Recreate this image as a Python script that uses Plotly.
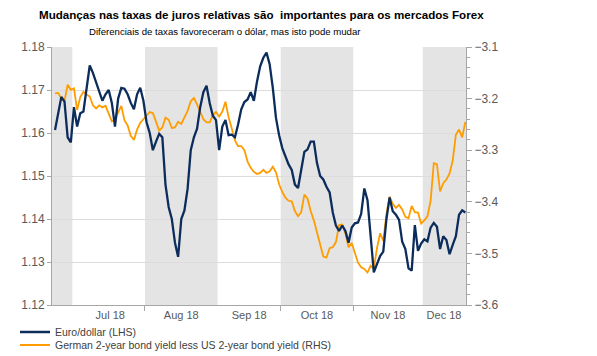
import pandas as pd
import plotly.graph_objects as go

# ---- data (business days 2018-06-21 .. 2018-12-20) ----
start_date = "2018-06-21"
end_date = "2018-12-20"

eurusd = [
    1.1607, 1.1650, 1.1684, 1.1673, 1.1590, 1.1578, 1.1660,          # Jun
    1.1615, 1.1646, 1.1650, 1.1708, 1.1757, 1.1740, 1.1718, 1.1695,  # Jul
    1.1675, 1.1690, 1.1700, 1.1670, 1.1615, 1.1680, 1.1705, 1.1703,
    1.1690, 1.1670, 1.1655, 1.1690, 1.1705, 1.1675,
    1.1625, 1.1600, 1.1560, 1.1580, 1.1598, 1.1590, 1.1480, 1.1428,  # Aug
    1.1400, 1.1345, 1.1312, 1.1400, 1.1420, 1.1470, 1.1560, 1.1590,
    1.1610, 1.1660, 1.1695, 1.1710, 1.1670, 1.1640, 1.1630,
    1.1560, 1.1615, 1.1630, 1.1595, 1.1596, 1.1590, 1.1620, 1.1655,  # Sep
    1.1672, 1.1678, 1.1695, 1.1675, 1.1720, 1.1755, 1.1775, 1.1787,
    1.1760, 1.1705, 1.1635, 1.1595,
    1.1565, 1.1545, 1.1527, 1.1514, 1.1480, 1.1472, 1.1515, 1.1556,  # Oct
    1.1562, 1.1580, 1.1580, 1.1530, 1.1500, 1.1492, 1.1475, 1.1462,
    1.1415, 1.1385, 1.1372, 1.1385, 1.1372, 1.1345, 1.1380,
    1.1390, 1.1392, 1.1412, 1.1471, 1.1444, 1.1360, 1.1276, 1.1295,  # Nov
    1.1314, 1.1324, 1.1400, 1.1450, 1.1418, 1.1410, 1.1398, 1.1347,
    1.1330, 1.1285, 1.1280, 1.1386, 1.1326, 1.1343,
    1.1353, 1.1348, 1.1380, 1.1391, 1.1382, 1.1330, 1.1360, 1.1351,  # Dec
    1.1318, 1.1340, 1.1360, 1.1410, 1.1420, 1.1415,
]

bund_ust_spread = [
    -3.190, -3.189, -3.200, -3.205, -3.173, -3.183, -3.180,          # Jun
    -3.222, -3.197, -3.187, -3.192, -3.196, -3.213, -3.219, -3.213,  # Jul
    -3.217, -3.214, -3.231, -3.244, -3.240, -3.226, -3.214, -3.242,
    -3.252, -3.272, -3.280, -3.260, -3.247, -3.240,
    -3.233, -3.226, -3.228, -3.247, -3.262, -3.256, -3.237, -3.241,  # Aug
    -3.257, -3.256, -3.245, -3.249, -3.235, -3.224, -3.205, -3.199,
    -3.211, -3.226, -3.240, -3.246, -3.246, -3.232, -3.226,
    -3.235, -3.225, -3.206, -3.236, -3.258, -3.281, -3.292, -3.292,  # Sep
    -3.300, -3.322, -3.334, -3.342, -3.346, -3.344, -3.338, -3.344,
    -3.341, -3.332, -3.343, -3.366,
    -3.381, -3.392, -3.398, -3.399, -3.418, -3.428, -3.420, -3.386,  # Oct
    -3.394, -3.418, -3.436, -3.460, -3.482, -3.506, -3.508, -3.490,
    -3.488, -3.478, -3.445, -3.444, -3.461, -3.488, -3.480,
    -3.500, -3.518, -3.527, -3.530, -3.537, -3.524, -3.530, -3.490,  # Nov
    -3.461, -3.476, -3.424, -3.390, -3.404, -3.412, -3.406, -3.415,
    -3.429, -3.432, -3.408, -3.420, -3.421, -3.442,
    -3.436, -3.428, -3.398, -3.325, -3.327, -3.380, -3.364, -3.357,  # Dec
    -3.345, -3.320, -3.270, -3.260, -3.275, -3.245,
]

series_names = ["Euro/dollar (LHS)",
                "German 2-year bond yield less US 2-year bond yield (RHS)"]

month_labels = ["Jul 18", "Aug 18", "Sep 18", "Oct 18", "Nov 18", "Dec 18"]
month_label_pos = ["2018-07-17", "2018-08-16 12:00", "2018-09-17",
                   "2018-10-16 12:00", "2018-11-16", "2018-12-11 18:00"]
month_bounds = ["2018-07-01", "2018-08-01", "2018-09-01",
                "2018-10-01", "2018-11-01", "2018-12-01"]
shaded = [("2018-06-01", "2018-07-01"), ("2018-08-01", "2018-09-01"),
          ("2018-10-01", "2018-11-01"), ("2018-12-01", "2018-12-31")]

dates = pd.bdate_range(start_date, end_date) + pd.Timedelta(hours=12)

NAVY = "#0c2d5c"
ORANGE = "#ff9c00"
GREY_TXT = "#595959"
AXIS = "#a6a6a6"
FONT = "Liberation Sans, Arial, sans-serif"

# page body adds an 8px offset; figure is sized to fit the window
W, H = 589, 348
L, T, PW, PH = 44, 39, 414, 258

fig = go.Figure()
fig.add_trace(go.Scatter(x=dates, y=bund_ust_spread, name=series_names[1],
                         mode="lines", line=dict(color=ORANGE, width=1.8),
                         yaxis="y", legend="legend2"))
fig.add_trace(go.Scatter(x=dates, y=eurusd, name=series_names[0],
                         mode="lines", line=dict(color=NAVY, width=2.3),
                         yaxis="y2", legend="legend"))

shapes = [dict(type="rect", xref="x", yref="paper", x0=a, x1=b, y0=0, y1=1,
               fillcolor="#e4e4e4", line=dict(width=0), layer="below")
          for a, b in shaded]

legend_common = dict(orientation="v", xref="container", yref="container",
                     x=7 / W, xanchor="left", yanchor="middle",
                     bgcolor="rgba(0,0,0,0)",
                     font=dict(size=10.5, color="#404040"))

fig.update_layout(
    width=W, height=H,
    margin=dict(l=L, r=W - L - PW, t=T, b=H - T - PH, autoexpand=False),
    paper_bgcolor="white", plot_bgcolor="white",
    font=dict(family=FONT, size=11, color=GREY_TXT),
    shapes=shapes,
    showlegend=True,
    legend=dict(legend_common, y=1 - (332 - 8) / H),
    legend2=dict(legend_common, y=1 - (345 - 8) / H),
    xaxis=dict(
        type="date",
        rangebreaks=[dict(bounds=["sat", "mon"])],
        range=["2018-06-20 13:00", "2018-12-20 17:00"],
        tickmode="array", tickvals=month_label_pos, ticktext=month_labels,
        ticks="", showgrid=False, showline=True, linecolor=AXIS, linewidth=1,
        tickfont=dict(size=11, color=GREY_TXT),
        minor=dict(tickmode="array", tickvals=month_bounds, ticks="outside",
                   ticklen=5, tickcolor=AXIS, showgrid=False),
        zeroline=False, automargin=False,
    ),
    yaxis=dict(
        side="right",
        range=[-3.6, -3.1], tickmode="linear", tick0=-3.6, dtick=0.1,
        tickformat=".1f", ticks="outside", ticklen=5, tickcolor=AXIS,
        showline=True, linecolor=AXIS, showgrid=False, zeroline=False,
        minor=dict(dtick=0.02, tick0=-3.6, ticks="outside", ticklen=3,
                   tickcolor=AXIS, showgrid=False),
        tickfont=dict(size=12, color=GREY_TXT), automargin=False,
    ),
    yaxis2=dict(
        overlaying="y", side="left",
        range=[1.12, 1.18], tickmode="linear", tick0=1.12, dtick=0.01,
        tickformat=".2f", ticks="outside", ticklen=4, tickcolor=AXIS,
        showline=True, linecolor=AXIS, showgrid=True, gridcolor="#dcdcdc",
        gridwidth=1, zeroline=False,
        tickfont=dict(size=12, color=GREY_TXT), automargin=False,
    ),
    annotations=[
        dict(text="<b>Mudanças nas taxas de juros relativas são  importantes para os mercados Forex</b>",
             xref="paper", yref="paper", x=(261 - 52) / PW, y=1 + (47 - 14) / PH,
             xanchor="center", yanchor="middle", showarrow=False,
             font=dict(size=11.6, color="#000000", family=FONT)),
        dict(text="Diferenciais de taxas favoreceram o dólar, mas isto pode mudar",
             xref="paper", yref="paper", x=(225 - 52) / PW, y=1 + (47 - 32) / PH,
             xanchor="center", yanchor="middle", showarrow=False,
             font=dict(size=9.6, color="#000000", family=FONT)),
    ],
)

fig.write_html("out.html")
